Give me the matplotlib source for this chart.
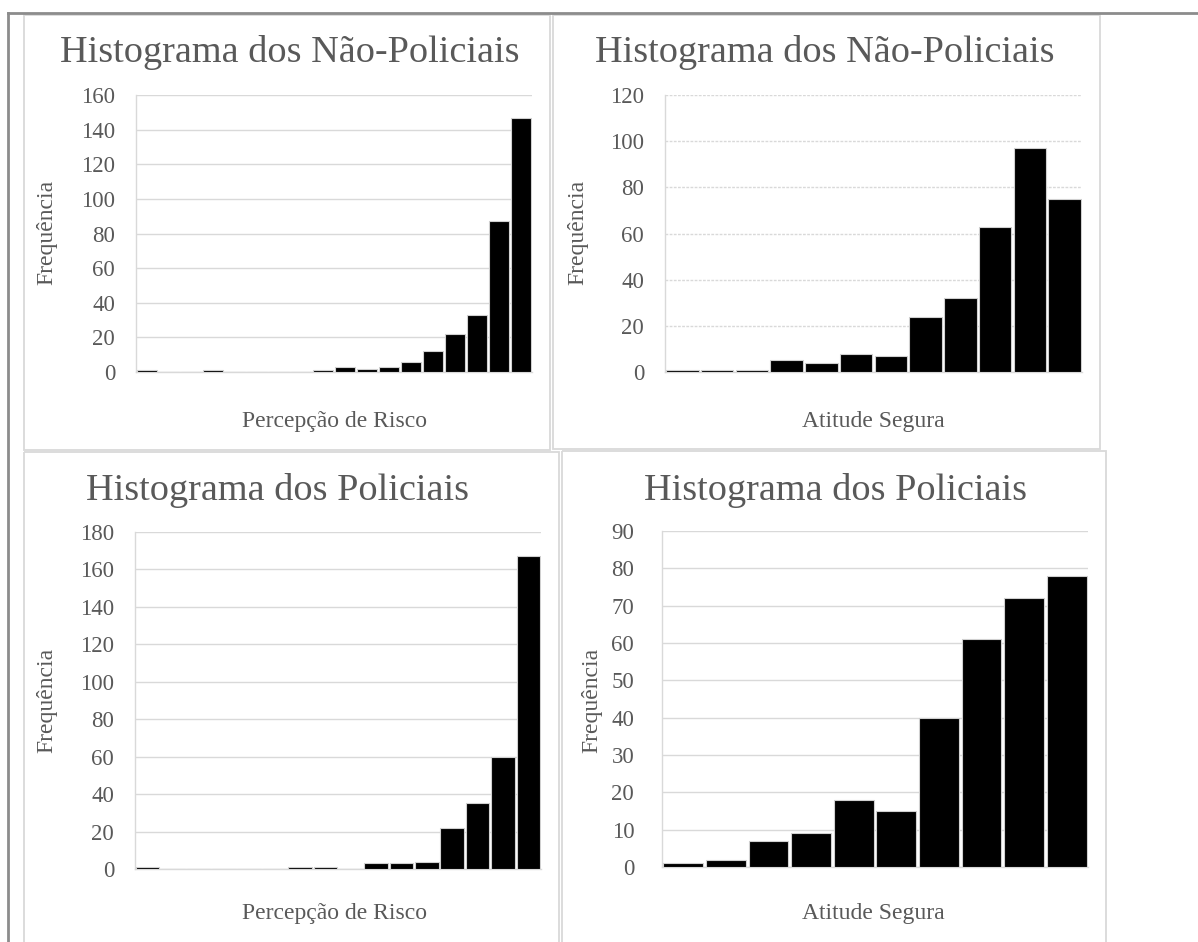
import matplotlib
matplotlib.use('Agg')
import matplotlib.pyplot as plt
from matplotlib.patches import Rectangle
from matplotlib.lines import Line2D

plt.rcParams['font.family'] = ['Liberation Serif', 'DejaVu Serif']

W, H = 1198, 942
GREY_TXT = '#595959'
GRID = '#d9d9d9'

# dados (frequencias por classe)
nao_pol_risco = [1, 0, 0, 1, 0, 0, 0, 0, 1, 3, 2, 3, 6, 12, 22, 33, 87, 147]
nao_pol_atitude = [1, 1, 1, 5, 4, 8, 7, 24, 32, 63, 97, 75]
pol_risco = [1, 0, 0, 0, 0, 0, 1, 1, 0, 3, 3, 4, 22, 35, 60, 167]
pol_atitude = [1, 2, 7, 9, 18, 15, 40, 61, 72, 78]

titles = ['Histograma dos Não-Policiais', 'Histograma dos Não-Policiais',
          'Histograma dos Policiais', 'Histograma dos Policiais']
xlabels = ['Percepção de Risco', 'Atitude Segura', 'Percepção de Risco', 'Atitude Segura']
ylabel = 'Frequência'
ymax = [160, 120, 180, 90]
ystep = [20, 20, 20, 10]

fig = plt.figure(figsize=(W / 100, H / 100), dpi=100)

# fundo: moldura externa e caixas dos graficos (coordenadas em pixels)
bg = fig.add_axes([0, 0, 1, 1], zorder=0)
bg.set_xlim(0, W)
bg.set_ylim(H, 0)
bg.axis('off')
bg.add_line(Line2D([8, W], [13, 13], color='#8c8c8c', lw=2))
bg.add_line(Line2D([8, 8], [13, H], color='#8c8c8c', lw=2))
boxes = [(24, 15, 550, 450), (553, 15, 1100, 449), (24, 452, 559, 950), (562, 451, 1106, 950)]
for x0, y0, x1, y1 in boxes:
    bg.add_patch(Rectangle((x0, y0), x1 - x0, y1 - y0, fill=False, ec=GRID, lw=1.3))

plot_areas = [(136, 95, 532, 372), (665, 95, 1082, 372), (135, 532, 541, 869), (662, 531, 1088, 867)]
title_pos = [(290, 52), (825, 52), (278, 490), (835, 490)]
xlabel_pos = [(335, 421), (873, 421), (335, 913), (873, 913)]
ylabel_pos = [(47, 232), (578, 232), (47, 700), (592, 700)]
data = [nao_pol_risco, nao_pol_atitude, pol_risco, pol_atitude]

for i in range(4):
    x0, y0, x1, y1 = plot_areas[i]
    ax = fig.add_axes([x0 / W, 1 - y1 / H, (x1 - x0) / W, (y1 - y0) / H], zorder=1)
    vals = data[i]
    n = len(vals)
    ax.bar(range(n), vals, width=0.93, color='black', edgecolor='#d0d0d0', linewidth=0.8, zorder=3)
    ax.set_xlim(-0.5, n - 0.5)
    ax.set_ylim(0, ymax[i])
    ax.set_yticks(range(0, ymax[i] + 1, ystep[i]))
    ax.set_xticks([])
    ls = (0, (2, 1)) if i == 1 else '-'
    ax.grid(axis='y', color=GRID, lw=1, ls=ls, zorder=0)
    for s in ['top', 'right']:
        ax.spines[s].set_visible(False)
    for s in ['left', 'bottom']:
        ax.spines[s].set_color(GRID)
        ax.spines[s].set_linewidth(1)
    ax.tick_params(axis='y', length=0, pad=15 if i != 3 else 20, labelsize=16.5, labelcolor=GREY_TXT)

    fig.text(title_pos[i][0] / W, 1 - title_pos[i][1] / H, titles[i], ha='center', va='center',
             fontsize=27.5, color=GREY_TXT)
    fig.text(xlabel_pos[i][0] / W, 1 - xlabel_pos[i][1] / H, xlabels[i], ha='center', va='center',
             fontsize=17, color=GREY_TXT)
    fig.text(ylabel_pos[i][0] / W, 1 - ylabel_pos[i][1] / H, ylabel, ha='center', va='center',
             rotation=90, fontsize=17, color=GREY_TXT)

fig.savefig('out.png', dpi=100, facecolor='white')
